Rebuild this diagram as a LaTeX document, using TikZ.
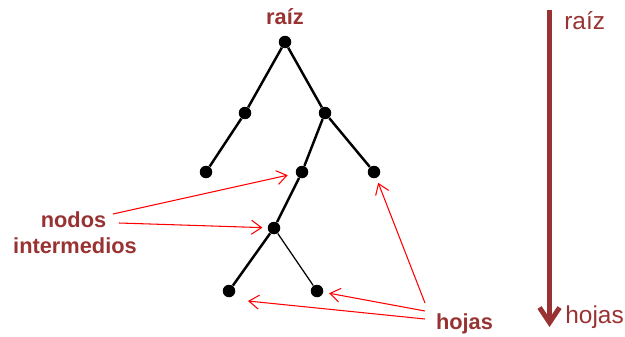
\documentclass[tikz,border=0pt]{standalone}
\usepackage{fontspec}
\setmainfont{Liberation Sans}
\usetikzlibrary{arrows.meta}
\definecolor{granate}{RGB}{153,51,51}

\begin{document}
\begin{tikzpicture}[
  punto/.style={circle, fill=black, inner sep=0pt, minimum size=2.5mm},
  rama/.style={line width=1.4pt},
  ramafina/.style={line width=0.7pt},
  etiq/.style={text=granate, font=\fontsize{12.4}{14}\selectfont\bfseries, inner sep=0pt},
  nivel/.style={text=granate, font=\fontsize{13.9}{16}\selectfont, inner sep=0pt},
  senal/.style={red, line width=0.6pt, -{Straight Barb[length=2mm, width=2.8mm]}},
  eje/.style={granate, line width=2.8pt, -{Straight Barb[length=3mm, width=4mm]}}
]
\useasboundingbox (0,0) rectangle (12.5,6.72);

% ---------- Tree ----------
\node[punto] (raiz) at (5.70,5.88) {};
\node[punto] (a) at (4.90,4.46) {};
\node[punto] (b) at (6.50,4.46) {};
\node[punto] (c) at (4.12,3.28) {};
\node[punto] (d) at (6.04,3.28) {};
\node[punto] (e) at (7.48,3.28) {};
\node[punto] (f) at (5.48,2.16) {};
\node[punto] (g) at (4.58,0.90) {};
\node[punto] (h) at (6.34,0.90) {};

\draw[rama] (raiz) -- (a);
\draw[rama] (raiz) -- (b);
\draw[rama] (a) -- (c);
\draw[rama] (b) -- (d);
\draw[rama] (b) -- (e);
\draw[rama] (d) -- (f);
\draw[rama] (f) -- (g);
\draw[ramafina] (f) -- (h);

% ---------- Labels ----------
\node[etiq, anchor=base] (lraiz) at (5.70,6.23) {raíz};
\node[etiq, anchor=base] (nodos) at (1.47,2.18) {nodos};
\node[etiq, anchor=base] (interm) at (1.50,1.66) {intermedios};
\node[etiq, anchor=base] (hojas) at (9.29,0.14) {hojas};

% ---------- Pointers ----------
\coordinate (n1) at (2.26,2.44);
\coordinate (n2) at (2.38,2.26);
\draw[senal, shorten >=1.6mm] (n1) -- (d);
\draw[senal, shorten >=1mm] (n2) -- (f);

\coordinate (h1) at (8.50,0.66);
\coordinate (h2) at (8.50,0.50);
\coordinate (h3) at (8.50,0.34);
\coordinate (gp) at (4.96,0.70);
\draw[senal, shorten >=1mm] (h1) -- (e);
\draw[senal, shorten >=1.15mm] (h2) -- (h);
\draw[senal] (h3) -- (gp);

% ---------- Level axis ----------
\coordinate (ejearriba) at (10.99,6.52);
\coordinate (ejeabajo) at (10.99,0.18);
\draw[eje] (ejearriba) -- (ejeabajo);
\node[nivel, anchor=base west] (nraiz) at (11.28,6.14) {raíz};
\node[nivel, anchor=base west] (nhojas) at (11.30,0.26) {hojas};

\end{tikzpicture}
\end{document}
